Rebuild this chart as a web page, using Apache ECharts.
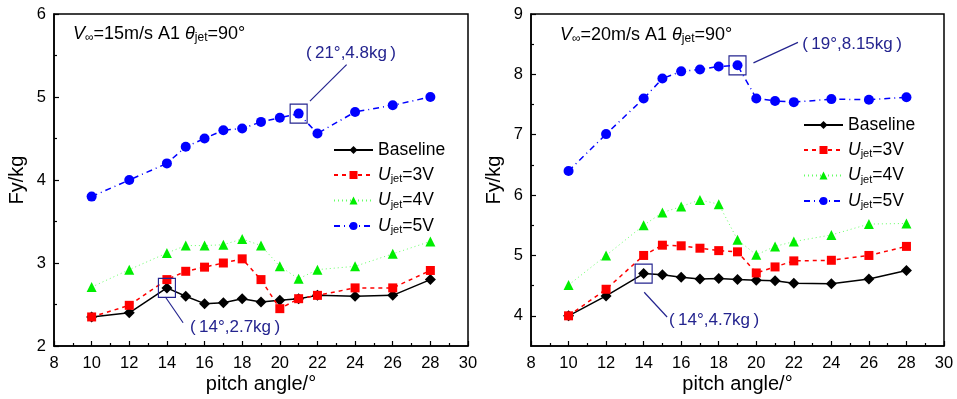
<!DOCTYPE html>
<html><head><meta charset="utf-8">
<script src="https://cdn.jsdelivr.net/npm/echarts@6/dist/echarts.min.js"></script>
<style>html,body{margin:0;padding:0;background:#fff}#c{width:957px;height:399px}</style>
</head><body><div id="c"></div>
<script>
const angles = [10,12,14,15,16,17,18,19,20,21,22,24,26,28];
const base15 = [2.35,2.40,2.70,2.60,2.51,2.52,2.57,2.53,2.55,2.57,2.61,2.60,2.61,2.80];
const u3_15  = [2.35,2.49,2.80,2.90,2.95,3.00,3.05,2.80,2.45,2.57,2.61,2.70,2.70,2.91];
const u4_15  = [2.71,2.92,3.12,3.21,3.21,3.22,3.29,3.21,2.96,2.81,2.92,2.96,3.11,3.26];
const u5_15  = [3.80,4.00,4.20,4.40,4.50,4.60,4.62,4.70,4.75,4.80,4.56,4.82,4.90,5.00];
const base20 = [4.00,4.33,4.70,4.68,4.64,4.61,4.62,4.60,4.59,4.58,4.54,4.53,4.61,4.75];
const u3_20  = [4.00,4.44,5.00,5.17,5.16,5.12,5.08,5.06,4.71,4.81,4.91,4.92,5.00,5.15];
const u4_20  = [4.51,5.00,5.50,5.71,5.81,5.92,5.85,5.26,5.01,5.15,5.23,5.34,5.52,5.53];
const u5_20  = [6.40,7.01,7.60,7.93,8.05,8.08,8.13,8.15,7.60,7.56,7.54,7.59,7.58,7.62];
const seriesNames = ['Baseline','Ujet=3V','Ujet=4V','Ujet=5V'];
const xTicks = [8,10,12,14,16,18,20,22,24,26,28,30];
const yTicks15 = [2,3,4,5,6];
const yMinor15 = [2.5,3.5,4.5,5.5];
const yTicks20 = [4,5,6,7,8,9];
const yMinor20 = [4.5,5.5,6.5,7.5,8.5];
const yMin20 = 3.5;
// annotations
const ann15Top = {pt:[21,4.8], text:'(\u200921°,4.8kg\u2009)', from:[23.55,5.39], to:[21.6,4.95], at:[23.78,5.53]};
const ann15Bot = {pt:[14,2.7], text:'(\u200914°,2.7kg\u2009)', from:[14.86,2.28], to:[13.92,2.59], at:[17.62,2.23]};
const ann20Top = {pt:[19,8.15], text:'(\u200919°,8.15kg\u2009)', from:[22.22,8.53], to:[19.85,8.19], at:[25.10,8.49]};
const ann20Bot = {pt:[14,4.7], text:'(\u200914°,4.7kg\u2009)', from:[15.25,3.98], to:[14.03,4.39], at:[17.75,3.93]};

const FONT = "'Liberation Sans', Arial, Helvetica, sans-serif";
const NAVY = '#24248f';
const pairs = v => angles.map((a,i)=>[a,v[i]]);

const styles = [
  {symbol:'diamond', symbolSize:11, color:'#000', line:{color:'#000', width:1.5, type:'solid'}},
  {symbol:'rect', symbolSize:9, color:'#ff0000', line:{color:'#ff0000', width:1.5, type:[4,4]}},
  {symbol:'triangle', symbolSize:10, color:'#00ee00', line:{color:'#66ff66', width:1, type:[1,3]}},
  {symbol:'circle', symbolSize:10, color:'#0000ff', line:{color:'#0000ff', width:1.5, type:[6,4,1,4]}}
];

function annMarks(a){
  return {
    markPoint:{
      silent:true, animation:false,
      data:[
        {coord:a.pt, symbol:'rect', symbolSize:[17,19], itemStyle:{color:'rgba(0,0,0,0)', borderColor:NAVY, borderWidth:1.2}, label:{show:false}},
        {coord:a.at, symbol:'rect', symbolSize:1, itemStyle:{color:'rgba(0,0,0,0)'}, label:{show:true, position:'inside', formatter:a.text, color:NAVY, fontSize:17, fontFamily:FONT}}
      ]
    },
    markLine:{
      silent:true, animation:false, symbol:['none','arrow'], symbolSize:[0,11],
      lineStyle:{color:NAVY, width:1.2, type:'solid'}, label:{show:false},
      data:[[{coord:a.from},{coord:a.to}]]
    }
  };
}

function mkSeries(gi, data, si, extra){
  const s = styles[si];
  return Object.assign({
    type:'line', name:seriesNames[si], xAxisIndex:gi, yAxisIndex:gi*2,
    data:pairs(data), symbol:s.symbol, symbolSize:s.symbolSize,
    itemStyle:{color:s.color}, lineStyle:s.line, showSymbol:true, animation:false, z: 2+si
  }, extra||{});
}

const legendRich = {
  n:{fontSize:17.5, fontFamily:FONT, color:'#000', lineHeight:19},
  i:{fontSize:17.5, fontFamily:FONT, fontStyle:'italic', color:'#000', lineHeight:19},
  s:{fontSize:11, fontFamily:FONT, color:'#000', verticalAlign:'bottom', lineHeight:12}
};
function legendFmt(name){
  if(name==='Baseline') return '{n|Baseline}';
  return '{i|U}{s|jet}{n|' + name.slice(4) + '}';
}
function mkLegend(left, top){
  return {
    left:left, top:top, orient:'vertical', itemGap:7, itemWidth:39, itemHeight:10, padding:0,
    data:seriesNames, formatter:legendFmt, selectedMode:false,
    textStyle:{rich:legendRich, fontSize:17.5, fontFamily:FONT}
  };
}

function mkX(gi){
  return {
    type:'value', gridIndex:gi, min:xTicks[0], max:xTicks[xTicks.length-1], interval:2,
    name:'pitch angle/°', nameLocation:'middle', nameGap:28, nameMoveOverlap:false,
    nameTextStyle:{fontSize:20, fontFamily:FONT, color:'#000'},
    axisLine:{lineStyle:{color:'#000', width:1.5}},
    axisTick:{inside:true, length:5, lineStyle:{color:'#000', width:1.2}},
    minorTick:{show:true, splitNumber:2, length:3, lineStyle:{color:'#000', width:1.2}},
    axisLabel:{fontSize:16.5, fontFamily:FONT, color:'#000', margin:9},
    splitLine:{show:false}
  };
}
function mkY(gi, ticks, minor, min){
  const mx = ticks[ticks.length-1];
  return [{
    type:'value', gridIndex:gi, min:min, max:mx, interval:0.5,
    name:'Fy/kg', nameLocation:'middle', nameGap:27, nameRotate:90, nameMoveOverlap:false,
    nameTextStyle:{fontSize:20, fontFamily:FONT, color:'#000'},
    axisLine:{lineStyle:{color:'#000', width:1.5}},
    axisTick:{inside:true, length:5, customValues:ticks, lineStyle:{color:'#000', width:1.2}},
    minorTick:{show:false},
    axisLabel:{fontSize:16.5, fontFamily:FONT, color:'#000', margin:8, customValues:ticks},
    splitLine:{show:false}
  },{
    type:'value', gridIndex:gi, min:min, max:mx, interval:0.5, position:'left',
    axisLine:{show:false},
    axisTick:{inside:true, length:3, customValues:minor, lineStyle:{color:'#000', width:1.2}},
    axisLabel:{show:false}, splitLine:{show:false}
  }];
}

const titleRich = {
  n:{fontSize:18, fontFamily:FONT, fill:'#000', lineHeight:20},
  i:{fontSize:18, fontFamily:FONT, fontStyle:'italic', fill:'#000', lineHeight:20},
  s:{fontSize:12, fontFamily:FONT, fill:'#000', verticalAlign:'bottom', lineHeight:12}
};

const gridBase = {top:14, bottom:53, show:true, borderColor:'#000', borderWidth:1.5, containLabel:false, outerBoundsMode:'none'};
const option = {
  backgroundColor:'#fff',
  grid:[
    Object.assign({left:54, right:489}, gridBase),
    Object.assign({left:531, right:13}, gridBase)
  ],
  xAxis:[mkX(0), mkX(1)],
  yAxis:[].concat(mkY(0, yTicks15, yMinor15, yTicks15[0]), mkY(1, yTicks20, yMinor20, yMin20)),
  legend:[mkLegend(333, 141), mkLegend(803, 116)],
  graphic:[
    {type:'text', left:73, top:25, style:{text:'{i|V}{s|∞}{n|=15m/s A1 }{i|θ}{s|jet}{n|=90°}', rich:titleRich}},
    {type:'text', left:560, top:26, style:{text:'{i|V}{s|∞}{n|=20m/s A1 }{i|θ}{s|jet}{n|=90°}', rich:titleRich}}
  ],
  series:[
    mkSeries(0, base15, 0, annMarks(ann15Bot)),
    mkSeries(0, u3_15, 1),
    mkSeries(0, u4_15, 2),
    mkSeries(0, u5_15, 3, annMarks(ann15Top)),
    mkSeries(1, base20, 0, annMarks(ann20Bot)),
    mkSeries(1, u3_20, 1),
    mkSeries(1, u4_20, 2),
    mkSeries(1, u5_20, 3, annMarks(ann20Top))
  ]
};
const chart = echarts.init(document.getElementById('c'), null, {renderer:'canvas'});
chart.setOption(option);
</script></body></html>
